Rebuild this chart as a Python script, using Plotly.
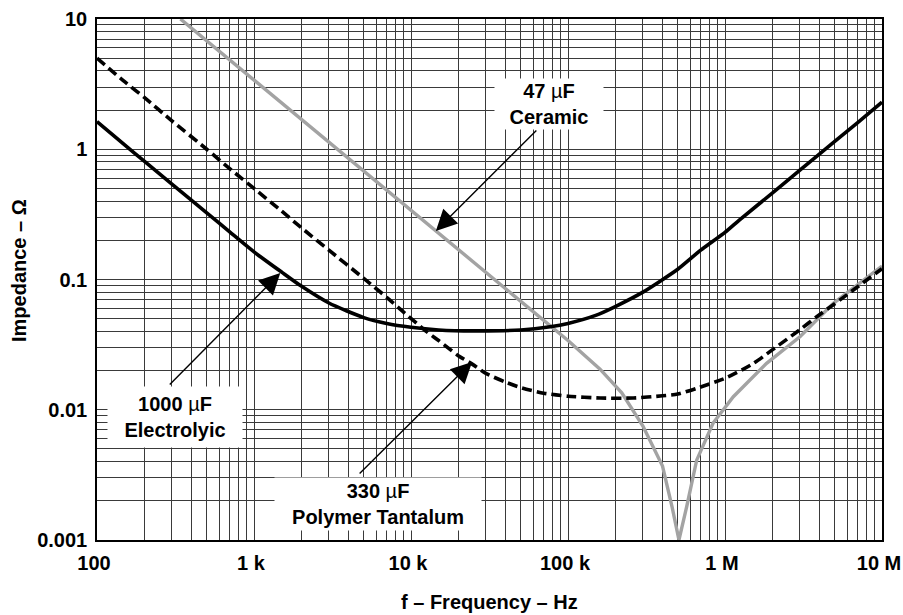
import math
import plotly.graph_objects as go

# ---------------- data ----------------
freq_el = [100, 150, 200, 300, 500, 700, 1000, 1500, 2000, 3000, 5000, 7000, 10000,
           15000, 25000, 50000, 77000, 100000, 150000, 200000, 300000, 500000, 700000,
           1000000, 1250000, 2000000, 3000000, 5000000, 7000000, 10000000]
z_el = [1.63, 1.08, 0.81, 0.54, 0.325, 0.232, 0.163, 0.114, 0.089, 0.066, 0.051, 0.046, 0.043,
        0.041, 0.0403, 0.041, 0.0434, 0.046, 0.053, 0.062, 0.08, 0.12, 0.168,
        0.23, 0.29, 0.46, 0.69, 1.15, 1.6, 2.3]

freq_ta = [100, 150, 200, 300, 500, 700, 1000, 1500, 2000, 3000, 5000, 7000, 8900, 12500,
           15000, 20000, 24000, 30000, 40000, 50000, 70000, 100000, 160000, 260000, 400000,
           500000, 660000, 1030000, 1500000, 2000000, 3000000, 3840000, 5400000, 7000000, 10000000]
z_ta = [5.0, 3.3, 2.5, 1.65, 1.0, 0.71, 0.50, 0.335, 0.25, 0.168, 0.102, 0.073, 0.0566, 0.040,
        0.034, 0.026, 0.0228, 0.019, 0.0163, 0.0148, 0.0134, 0.0127, 0.0123, 0.0123, 0.0128,
        0.0132, 0.0146, 0.0177, 0.0225, 0.0288, 0.0412, 0.0518, 0.0697, 0.088, 0.121]

freq_ce = [340, 500, 1000, 2000, 5000, 10000, 14400, 20000, 35000, 50000, 77000, 100000,
           160000, 220000, 300000, 400000, 460000, 509000, 570000, 660000, 840000, 1130000,
           1840000, 3000000, 4900000, 7000000, 10000000]
z_ce = [10, 6.8, 3.4, 1.7, 0.68, 0.34, 0.236, 0.17, 0.097, 0.068, 0.044, 0.034,
        0.0205, 0.0135, 0.0075, 0.0037, 0.0018, 0.001, 0.0018, 0.0041, 0.0079, 0.0126,
        0.0227, 0.0363, 0.0656, 0.092, 0.127]

x_tickvals = [100, 1000, 10000, 100000, 1000000, 10000000]
x_ticktext = ["100", "1 k", "10 k", "100 k", "1 M", "10 M"]
y_tickvals = [0.001, 0.01, 0.1, 1, 10]
y_ticktext = ["0.001", "0.01", "0.1", "1", "10"]

FONT = "Liberation Sans, Arial, Helvetica, sans-serif"
MU = "<span style='font-weight:normal'>\u00b5</span>"

fig = go.Figure()
fig.add_trace(go.Scatter(x=freq_ce, y=z_ce, mode="lines",
                         line=dict(color="#a3a3a3", width=3.4), showlegend=False))
fig.add_trace(go.Scatter(x=freq_ta, y=z_ta, mode="lines",
                         line=dict(color="black", width=3.6, dash="10px,5px", shape="spline", smoothing=0.6),
                         showlegend=False))
fig.add_trace(go.Scatter(x=freq_el, y=z_el, mode="lines",
                         line=dict(color="black", width=3.6, shape="spline", smoothing=0.6),
                         showlegend=False))

W, H = 903, 615
# plot area in page pixels: x 97..882, y 19..540 (body margin removed below)
SL, SR, ST, SB = 97, 882, 19, 540
ML, MT = SL, ST
MR, MB = W - SR, H - SB
PW, PH = SR - SL, SB - ST


def px(x):
    return (x - SL) / PW


def py(y):
    return (SB - y) / PH


# text boxes (paper coordinates derived from pixel layout)
boxes = [
    ("47 " + MU + "F<br>Ceramic", 549, 104, 108, 50),
    ("1000 " + MU + "F<br>Electrolyic", 175, 417, 134, 60),
    ("330 " + MU + "F<br>Polymer Tantalum", 378, 504, 206, 52),
]
annotations = []
for txt, cx, cy, w, h in boxes:
    annotations.append(dict(text=txt, xref="paper", yref="paper", x=px(cx), y=py(cy),
                            xanchor="center", yanchor="middle", showarrow=False,
                            width=w, height=h, bgcolor="white", borderpad=0,
                            font=dict(family=FONT, size=20, color="black", weight="bold")))

# arrows: tip on curve (data coords, log), tail offset in pixels
arrows = [
    (14400, 0.236, 102, -102),
    (1470, 0.112, -112, 113),
    (24500, 0.0233, -114, 113),
]
for fx, zy, ax, ay in arrows:
    annotations.append(dict(text="", x=math.log10(fx), y=math.log10(zy), xref="x", yref="y",
                            showarrow=True, arrowhead=2, arrowsize=3, arrowwidth=1.4,
                            arrowcolor="black", ax=ax, ay=ay))

# axis titles
annotations.append(dict(text="f \u2013 Frequency \u2013 Hz", xref="paper", yref="paper",
                        x=px(489), y=py(602), xanchor="center", yanchor="middle", showarrow=False,
                        font=dict(family=FONT, size=20, color="black", weight="bold")))
annotations.append(dict(text="Impedance \u2013 \u03a9", xref="paper", yref="paper",
                        x=px(19), y=py(271), xanchor="center", yanchor="middle", showarrow=False,
                        textangle=-90,
                        font=dict(family=FONT, size=20, color="black", weight="bold")))

grid = "#3a3a3a"
axis_common = dict(
    automargin=False, ticklabeloverflow="allow",
    showgrid=True, gridcolor=grid, gridwidth=1,
    minor=dict(dtick="D1", showgrid=True, gridcolor=grid, gridwidth=1),
    showline=True, linecolor="black", linewidth=1.5, mirror=True,
    ticks="", ticklen=0, zeroline=False,
    tickfont=dict(family=FONT, size=20, color="black", weight="bold"),
)
fig.update_layout(
    width=W, height=H,
    margin=dict(l=ML, r=MR, t=MT, b=MB, autoexpand=False),
    paper_bgcolor="white", plot_bgcolor="white",
    font=dict(family=FONT, size=20, color="black", weight="bold"),
    annotations=annotations,
    xaxis=dict(type="log", range=[2, 7], tickvals=x_tickvals, ticktext=x_ticktext,
               ticklabelshift=-3, ticklabelstandoff=4, **axis_common),
    yaxis=dict(type="log", range=[-3, 1], tickvals=y_tickvals, ticktext=y_ticktext,
               ticklabelstandoff=4, **axis_common),
)

fig.write_html("out.html",
               config={"displayModeBar": False},
               post_script="document.body.style.margin='0';document.body.style.overflow='hidden';")
